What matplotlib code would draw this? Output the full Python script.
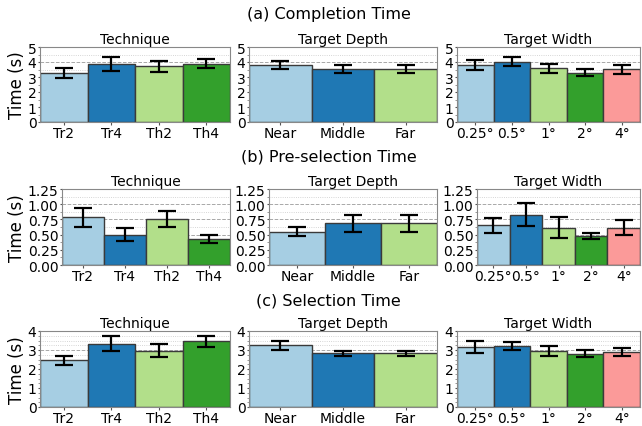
import matplotlib
matplotlib.use("Agg")
import matplotlib.pyplot as plt
from matplotlib.ticker import MultipleLocator

# categories
technique = ["Tr2", "Tr4", "Th2", "Th4"]
depth = ["Near", "Middle", "Far"]
width = ["0.25°", "0.5°", "1°", "2°", "4°"]

# (a) completion time: means and error half-widths
comp_tech = [3.25, 3.86, 3.71, 3.90]
comp_tech_err = [0.34, 0.48, 0.35, 0.32]
comp_depth = [3.80, 3.51, 3.51]
comp_depth_err = [0.28, 0.26, 0.26]
comp_width = [3.80, 4.03, 3.57, 3.30, 3.51]
comp_width_err = [0.35, 0.29, 0.33, 0.23, 0.30]

# (b) pre-selection time
pre_tech = [0.785, 0.50, 0.75, 0.424]
pre_tech_err = [0.157, 0.113, 0.13, 0.066]
pre_depth = [0.55, 0.684, 0.684]
pre_depth_err = [0.08, 0.135, 0.135]
pre_width = [0.65, 0.83, 0.615, 0.479, 0.615]
pre_width_err = [0.116, 0.19, 0.173, 0.055, 0.124]

# (c) selection time
sel_tech = [2.47, 3.33, 2.96, 3.46]
sel_tech_err = [0.24, 0.40, 0.33, 0.28]
sel_depth = [3.25, 2.82, 2.82]
sel_depth_err = [0.25, 0.15, 0.15]
sel_width = [3.15, 3.21, 2.94, 2.81, 2.90]
sel_width_err = [0.33, 0.22, 0.25, 0.20, 0.19]

colors = ["#a6cee3", "#1f78b4", "#b2df8a", "#33a02c", "#fb9a99"]

rows = [
    ("(a) Completion Time", 5, 1, 0.5,
     [(comp_tech, comp_tech_err), (comp_depth, comp_depth_err), (comp_width, comp_width_err)]),
    ("(b) Pre-selection Time", 1.25, 0.25, 0.125,
     [(pre_tech, pre_tech_err), (pre_depth, pre_depth_err), (pre_width, pre_width_err)]),
    ("(c) Selection Time", 4, 1, 0.25,
     [(sel_tech, sel_tech_err), (sel_depth, sel_depth_err), (sel_width, sel_width_err)]),
]
panels = [("Technique", technique), ("Target Depth", depth), ("Target Width", width)]

W, H = 642, 427
fig = plt.figure(figsize=(6.42, 4.27), dpi=100)

# pixel boxes of the axes, one list per row (each row laid out on its own)
col_x = [
    [(40, 230), (249, 437), (457, 640)],
    [(62, 230), (269, 437), (477, 640)],
    [(40, 230), (249, 437), (457, 640)],
]
row_y = [(48, 123), (190, 266), (332, 408)]
title_y = [15, 157, 301]

for r, (rtitle, ymax, major, minor, data) in enumerate(rows):
    fig.text(0.512, 1 - title_y[r] / H, rtitle, ha="center", va="center", fontsize=11.5)
    y0, y1 = row_y[r]
    fig.text(16.5 / W, 1 - (y0 + y1) / 2 / H, "Time (s)", rotation=90,
             ha="center", va="center", fontsize=12)
    for c, ((ptitle, cats), (vals, errs)) in enumerate(zip(panels, data)):
        x0, x1 = col_x[r][c]
        ax = fig.add_axes([x0 / W, 1 - y1 / H, (x1 - x0) / W, (y1 - y0) / H])
        x = range(len(cats))
        ax.bar(x, vals, width=1.0, color=colors[:len(cats)], edgecolor="#3a3a3a",
               linewidth=1.0, zorder=2)
        ax.errorbar(x, vals, yerr=errs, fmt="none", ecolor="black", capsize=6.5,
                    elinewidth=1.6, capthick=1.6, zorder=3)
        ax.set_xlim(-0.5, len(cats) - 0.5)
        ax.set_ylim(0, ymax)
        ax.set_xticks(list(x))
        ax.set_xticklabels(cats)
        ax.yaxis.set_major_locator(MultipleLocator(major))
        ax.yaxis.set_minor_locator(MultipleLocator(minor))
        ax.grid(axis="y", which="major", linestyle="--", color="#a8a8a8", linewidth=0.7, zorder=0)
        ax.grid(axis="y", which="minor", linestyle=":", color="#c8c8c8", linewidth=0.6, zorder=0)
        ax.set_axisbelow(True)
        ax.tick_params(axis="both", labelsize=10, pad=0.8, length=1.8, color="#555555")
        ax.tick_params(axis="y", which="minor", length=1.2, color="#888888")
        for s in ax.spines.values():
            s.set_color("#888888")
        ax.set_title(ptitle, fontsize=10, pad=3)

fig.savefig("out.png", dpi=100)
